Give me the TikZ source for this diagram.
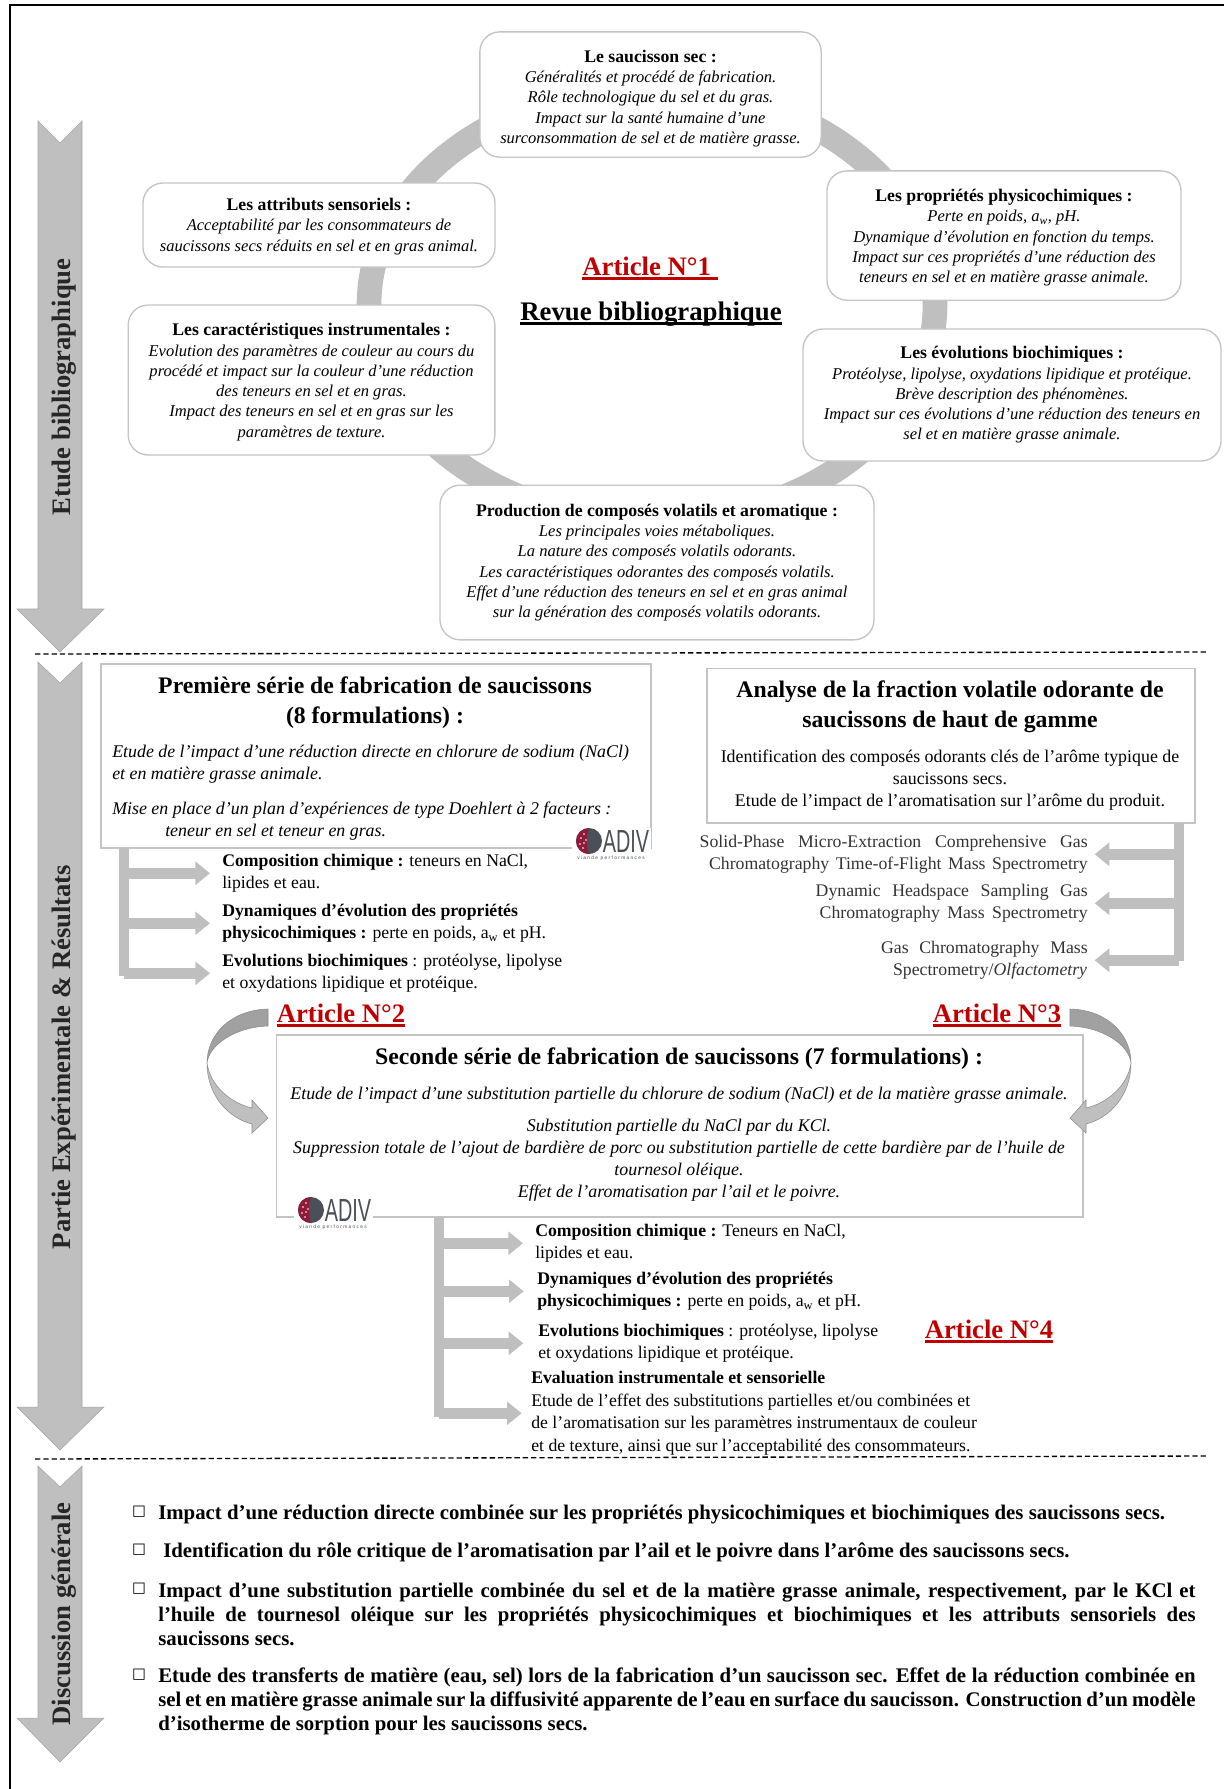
\documentclass[tikz,border=0pt]{standalone}
\usepackage{fontspec}
\setmainfont{Liberation Serif}
\setsansfont{Liberation Sans}
\newfontfamily\symbfont{DejaVu Sans}
\usepackage{xcolor}
\usepackage{tikz}
\usetikzlibrary{arrows.meta}

\definecolor{ringgrey}{HTML}{BFBFBF}
\definecolor{boxgrey}{HTML}{C4C4C4}
\definecolor{articlered}{HTML}{C00000}
\definecolor{adivred}{HTML}{8E1B3A}
\definecolor{adivgrey}{HTML}{4A4F58}
\newcommand{\heavyline}[1]{\leavevmode\setbox0\hbox{#1}\rlap{\rule[-3.4pt]{\wd0}{2pt}}\box0}
\newcommand{\cyclehead}[2][0pt]{{\fontsize{13.3}{15.2}\selectfont\bfseries\upshape\rule{0pt}{#1}#2}}

\begin{document}
\begin{tikzpicture}[x=0.75pt, y=-0.75pt]
		\tikzstyle{cyclebox} = [draw=boxgrey, fill=white, line width=1pt, rounded corners=15pt, align=center, inner sep=0pt, font=\fontsize{12.4}{15.2}\selectfont\itshape]
		\tikzstyle{seriebox} = [draw=boxgrey, fill=white, line width=1pt, inner sep=0pt]
		\tikzstyle{serietitle} = [align=center, yshift=-1.7pt, font=\fontsize{17.8}{22.5}\selectfont\bfseries]
		\tikzstyle{serietext} = [align=center, yshift=-1.7pt, font=\fontsize{13.4}{16.5}\selectfont]
		\tikzstyle{serieital} = [align=center, yshift=-1.7pt, font=\fontsize{13.4}{16.5}\selectfont\itshape]
		\tikzstyle{infotext} = [align=left, anchor=west, yshift=-1.7pt, font=\fontsize{13.3}{16.8}\selectfont]
		\tikzstyle{methodtext} = [align=right, anchor=east, yshift=-1.7pt, text=black!80, font=\fontsize{13.3}{16.8}\selectfont]
		\tikzstyle{article} = [text=articlered, yshift=-1.7pt, font=\fontsize{20}{24}\selectfont\bfseries]
		\tikzstyle{phaselabel} = [rotate=90, text=black!85, yshift=-1.5pt, font=\fontsize{20}{24}\selectfont\bfseries]
		\tikzstyle{bigarrow} = [fill=ringgrey, draw=black!35, line width=0.4pt]
		\tikzstyle{branch} = [draw=ringgrey, line width=8pt, -{Triangle[length=11pt, width=17pt]}]
		\tikzstyle{trunk} = [draw=ringgrey, line width=8pt]
		\tikzstyle{cut} = [dashed, line width=1pt, dash pattern=on 4pt off 2.2pt]
		\tikzstyle{concl} = [align=justify, anchor=west, yshift=-1.7pt, text width=778pt, inner sep=0pt, font=\fontsize{15.6}{18}\selectfont\bfseries]
		\tikzstyle{tick} = [inner sep=0pt, font=\symbfont\fontsize{11}{12}\selectfont]
		\tikzset{
			adivlogo/.pic={
				\fill[white] (-17,-13) rectangle (62,20);
				\fill[adivgrey] (0,0) circle (13);
				\fill[adivred] (0,-13) arc (270:90:13) .. controls (-3,6) and (-3,-6) .. cycle;
				\foreach \dotx/\doty in {-8/-3, -5/-7, -9/3, -5/2, -6/7, -3/-1}
					\fill[white] (\dotx,\doty) circle (0.9);
				\node[inner sep=0pt, text=adivgrey, xscale=0.62, font=\sffamily\fontsize{24}{24}\selectfont] at (37,0) (word) {ADIV};
				\node[inner sep=0pt, text=black!70, font=\sffamily\fontsize{3.6}{4}\selectfont] at (22,17) (motto) {v i a n d e\ \ p e r f o r m a n c e s};
			},
			turnarrow/.pic={
				\draw[fill=black!37, draw=black!45, line width=0.4pt] (0,0) .. controls (-38,1) and (-61,26) .. (-61,54) .. controls (-59,36) and (-33,18) .. (0,17) -- cycle;
				\draw[fill=ringgrey, draw=black!45, line width=0.4pt] (-61,54) .. controls (-61,86) and (-40,109) .. (-16,115) -- (-16,124) -- (0,109) -- (-16,91) -- (-16,99) .. controls (-38,94) and (-58,76) .. (-61,54) -- cycle;
			}
		}

		% frame and phases
		\useasboundingbox (0,0) rectangle (1224,1789);
		\draw[line width=2.2pt] (10,1789) -- (10,5) -- (1224,5);
		\draw[bigarrow] (38,121) -- (60,143) -- (82,121) -- (82,609) -- (104,609) -- (60,652) -- (17,609) -- (38,609) -- cycle;
		\draw[bigarrow] (38,662) -- (60,683) -- (82,662) -- (82,1407) -- (104,1407) -- (60,1450) -- (17,1407) -- (38,1407) -- cycle;
		\draw[bigarrow] (38,1466) -- (60,1487) -- (82,1466) -- (82,1718) -- (104,1718) -- (60,1762) -- (17,1718) -- (38,1718) -- cycle;
		\node[phaselabel] at (62, 387)	(phase1) {Etude bibliographique};
		\node[phaselabel] at (62, 1057)	(phase2) {Partie Expérimentale \& Résultats};
		\node[phaselabel] at (62, 1614)	(phase3) {Discussion générale};

		\coordinate (cut1a) at (35,654);
		\coordinate (cut1b) at (1206,652);
		\coordinate (cut2a) at (35,1459);
		\coordinate (cut2b) at (1206,1456);
		\draw[cut] (cut1a) -- (cut1b);
		\draw[cut] (cut2a) -- (cut2b);

		% revue
		\draw[draw=ringgrey, line width=18.5pt] (652,305) ellipse [x radius=283, y radius=217];
		\node[cyclebox, minimum width=256pt, minimum height=94pt] at (650.5,94.5) (saucisson) {\cyclehead[15pt]{Le saucisson sec :}\\ Généralités et procédé de fabrication.\\ Rôle technologique du sel et du gras.\\ Impact sur la santé humaine d’une\\ surconsommation de sel et de matière grasse.};
		\node[cyclebox, minimum width=265.5pt, minimum height=97pt] at (1004,235.5) (physico) {\cyclehead[12.4pt]{Les propriétés physicochimiques :}\\ Perte en poids, a\textsubscript{w}, pH.\\ Dynamique d’évolution en fonction du temps.\\ Impact sur ces propriétés d’une réduction des\\ teneurs en sel et en matière grasse animale.};
		\node[cyclebox, minimum width=313.5pt, minimum height=99pt] at (1012,395) (biochim) {\cyclehead{Les évolutions biochimiques :}\\ Protéolyse, lipolyse, oxydations lipidique et protéique.\\ Brève description des phénomènes.\\ Impact sur ces évolutions d’une réduction des teneurs en\\ sel et en matière grasse animale.};
		\node[cyclebox, minimum width=325.5pt, minimum height=116pt] at (657,562.5) (volatils) {\cyclehead{Production de composés volatils et aromatique :}\\ Les principales voies métaboliques.\\ La nature des composés volatils odorants.\\ Les caractéristiques odorantes des composés volatils.\\ Effet d’une réduction des teneurs en sel et en gras animal\\ sur la génération des composés volatils odorants.};
		\node[cyclebox, minimum width=275pt, minimum height=112.5pt] at (311.5,380) (instrum) {\cyclehead[12.4pt]{Les caractéristiques instrumentales :}\\ Evolution des paramètres de couleur au cours du\\ procédé et impact sur la couleur d’une réduction\\ des teneurs en sel et en gras.\\ Impact des teneurs en sel et en gras sur les\\ paramètres de texture.};
		\node[cyclebox, minimum width=264pt, minimum height=63pt] at (319,225) (sensoriel) {\cyclehead[11.6pt]{Les attributs sensoriels :}\\ Acceptabilité par les consommateurs de\\ saucissons secs réduits en sel et en gras animal.};
		\node[article] at (650,266) (art1) {\heavyline{Article N°1~}};
		\node[yshift=-2pt, font=\fontsize{20.1}{24}\selectfont\bfseries] at (651,311) (revue) {\heavyline{Revue bibliographique}};

		% premiere serie
		\node[seriebox, minimum width=412.5pt, minimum height=138pt] at (376,756) (serie1) {};
		\node[serietitle] at (375,700) (serie1t) {Première série de fabrication de saucissons\\ (8 formulations) :};
		\node[serieital, align=left, anchor=west, inner sep=0pt] at (112,762) (serie1a) {Etude de l’impact d’une réduction directe en chlorure de sodium (NaCl)\\ et en matière grasse animale.};
		\node[serieital, anchor=west, inner sep=0pt] at (112,808) (serie1b) {Mise en place d’un plan d’expériences de type Doehlert à 2  facteurs :};
		\node[serieital, anchor=west, inner sep=0pt] at (165,830) (serie1c) {teneur en sel et teneur en gras.};
		\pic (logo1) at (589,841) {adivlogo};
		\node[infotext, inner sep=0pt] at (222,871) (comp1) {\textbf{Composition chimique :} teneurs en NaCl,\\ lipides et eau.};
		\node[infotext, inner sep=0pt] at (222,921) (dyn1) {\textbf{Dynamiques d’évolution des propriétés}\\ \textbf{physicochimiques :} perte en poids, a\textsubscript{w} et pH.};
		\node[infotext, inner sep=0pt] at (222,971) (evol1) {\textbf{Evolutions biochimiques} : protéolyse, lipolyse\\ et oxydations lipidique et protéique.};
		\coordinate (top1) at (124,848);
		\coordinate (low1) at (124,976);
		\draw[trunk] (top1) -- (low1);
		\draw[branch, shorten >=9pt] (top1 |- comp1.west) -- (comp1.west);
		\draw[branch, shorten >=9pt] (top1 |- dyn1.west) -- (dyn1.west);
		\draw[branch, shorten >=9pt] (top1 |- evol1.west) -- (evol1.west);

		% fraction volatile
		\node[seriebox, minimum width=366pt, minimum height=116pt] at (951,745.5) (volatile) {};
		\node[serietitle] at (950,704) (volatilet) {Analyse de la fraction volatile odorante de\\ saucissons de haut de gamme};
		\node[serietext] at (950,778) (volatilea) {Identification des composés odorants clés de l’arôme typique de\\ saucissons secs.\\ Etude de l’impact de l’aromatisation sur l’arôme du produit.};
		\node[methodtext, inner sep=0pt] at (1088,852) (spme) {\makebox[291pt][s]{Solid-Phase  Micro-Extraction  Comprehensive  Gas}\\ \makebox[284pt][s]{Chromatography  Time-of-Flight Mass Spectrometry}};
		\node[methodtext, inner sep=0pt] at (1088,901) (dhs) {\makebox[204pt][s]{Dynamic  Headspace  Sampling Gas}\\ \makebox[201pt][s]{Chromatography  Mass Spectrometry}};
		\node[methodtext, inner sep=0pt] at (1088,958) (gco) {\makebox[155pt][s]{Gas  Chromatography  Mass}\\ \makebox[146pt][s]{Spectrometry/\textit{Olfactometry}}};
		\coordinate (top2) at (1179,823);
		\coordinate (low2) at (1179,961);
		\draw[trunk] (top2) -- (low2);
		\draw[branch, shorten >=5pt] (top2 |- spme.east) -- (spme.east);
		\draw[branch, shorten >=5pt] (top2 |- dhs.east) -- (dhs.east);
		\draw[branch, shorten >=5pt] (top2 |- gco.east) -- (gco.east);

		% seconde serie
		\node[article] at (341,1013) (art2) {\heavyline{Article N°2}};
		\node[article] at (997,1013) (art3) {\heavyline{Article N°3}};
		\node[seriebox, minimum width=605pt, minimum height=136.5pt] at (679.5,1126) (serie2) {};
		\pic at (268,1009) {turnarrow};
		\pic[xscale=-1] at (1070,1009) {turnarrow};
		\node[serietitle] at (679,1056) (serie2t) {Seconde série de fabrication de saucissons (7 formulations) :};
		\node[serieital] at (679,1093) (serie2a) {Etude de l’impact d’une substitution partielle du chlorure de sodium (NaCl) et de la matière grasse animale.};
		\node[serieital] at (679,1158) (serie2b) {Substitution partielle du NaCl par du KCl.\\ Suppression totale de l’ajout de bardière de porc ou substitution partielle de cette bardière par de l’huile de\\ tournesol oléique.\\ Effet de l’aromatisation par l’ail et le poivre.};
		\pic (logo2) at (311,1210) {adivlogo};
		\node[infotext, inner sep=0pt] at (535,1241) (comp2) {\textbf{Composition chimique :} Teneurs en NaCl,\\ lipides et eau.};
		\node[infotext, inner sep=0pt] at (537,1289) (dyn2) {\textbf{Dynamiques d’évolution des propriétés}\\ \textbf{physicochimiques :} perte en poids, a\textsubscript{w} et pH.};
		\node[infotext, inner sep=0pt] at (538,1341) (evol2) {\textbf{Evolutions biochimiques} : protéolyse, lipolyse\\ et oxydations lipidique et protéique.};
		\node[infotext, inner sep=0pt] at (531,1411) (eval2) {\textbf{Evaluation instrumentale et sensorielle}\\ Etude de l’effet des substitutions partielles et/ou combinées et\\ de l’aromatisation sur les paramètres instrumentaux de couleur\\ et de texture, ainsi que sur l’acceptabilité des consommateurs.};
		\node[article] at (989,1329) (art4) {\heavyline{Article N°4}};
		\coordinate (top3) at (439,1217);
		\coordinate (low3) at (439,1417);
		\draw[trunk] (top3) -- (low3);
		\draw[branch, shorten >=9pt] (top3 |- comp2.west) -- (comp2.west);
		\draw[branch, shorten >=10pt] (top3 |- dyn2.west) -- (dyn2.west);
		\draw[branch, shorten >=11pt] (top3 |- evol2.west) -- (evol2.west);
		\draw[branch, shorten >=7pt] (top3 |- eval2.west) -- (eval2.west);

		% discussion
		\node[tick] at (139,1512) (tick1) {□};
		\node[tick] at (139,1550) (tick2) {□};
		\node[tick] at (139,1589) (tick3) {□};
		\node[tick] at (139,1675) (tick4) {□};
		\node[concl] at (158,1512) (concl1) {Impact d’une réduction directe combinée sur les propriétés physicochimiques et biochimiques des saucissons secs.};
		\node[concl, text width=770pt] at (163,1550) (concl2) {Identification du rôle critique de l’aromatisation par l’ail et le poivre dans l’arôme des saucissons secs.};
		\node[concl] at (158,1612.5) (concl3) {Impact d’une substitution partielle combinée du sel et de la matière grasse animale, respectivement, par le KCl et\linebreak l’huile de tournesol oléique sur les propriétés physicochimiques et biochimiques et les attributs sensoriels des\linebreak saucissons secs.};
		\node[concl] at (158,1699) (concl4) {Etude des transferts de matière (eau, sel) lors de la fabrication d’un saucisson sec. Effet de la réduction combinée en\linebreak sel et en matière grasse animale sur la diffusivité apparente de l’eau en surface du saucisson. Construction d’un modèle\linebreak d’isotherme de sorption pour les saucissons secs.};
	\end{tikzpicture}
\end{document}
